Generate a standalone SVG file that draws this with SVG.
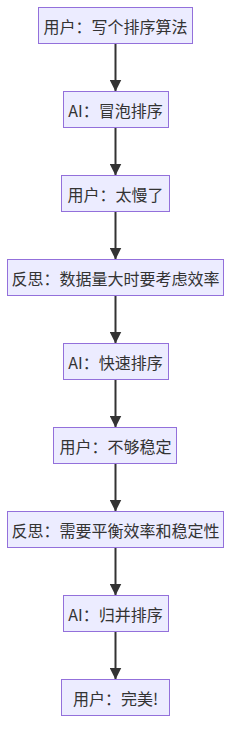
<svg xmlns="http://www.w3.org/2000/svg" width="239" height="749" viewBox="0 0 239 749">
<style>
.node rect{fill:#ECECFF;stroke:#9370DB;stroke-width:1}
.node text{font-family:"Noto Sans CJK SC","Noto Sans",sans-serif;font-size:16px;fill:#333;text-anchor:middle;dominant-baseline:central}
.edge{stroke:#333;stroke-width:2;fill:none}
</style>
<defs>
<marker id="arr" markerUnits="userSpaceOnUse" markerWidth="12" markerHeight="12" refX="11" refY="5.5" orient="auto" viewBox="0 0 11 11">
<path d="M0,0 L11,5.5 L0,11 z" fill="#333"/>
</marker>
</defs>
<rect width="239" height="749" fill="#fff"/>
<g id="edges">
<line class="edge" x1="115.5" y1="43.5" x2="115.5" y2="91.5" marker-end="url(#arr)"/>
<line class="edge" x1="115.5" y1="127.5" x2="115.5" y2="175.5" marker-end="url(#arr)"/>
<line class="edge" x1="115.5" y1="211.5" x2="115.5" y2="259.5" marker-end="url(#arr)"/>
<line class="edge" x1="115.5" y1="295.5" x2="115.5" y2="343.5" marker-end="url(#arr)"/>
<line class="edge" x1="115.5" y1="379.5" x2="115.5" y2="427.5" marker-end="url(#arr)"/>
<line class="edge" x1="115.5" y1="463.5" x2="115.5" y2="511.5" marker-end="url(#arr)"/>
<line class="edge" x1="115.5" y1="547.5" x2="115.5" y2="595.5" marker-end="url(#arr)"/>
<line class="edge" x1="115.5" y1="631.5" x2="115.5" y2="679.5" marker-end="url(#arr)"/>
</g>
<g id="n1" class="node"><rect x="38.5" y="7.5" width="154" height="36"/><text x="115.5" y="25.5">用户：写个排序算法</text></g>
<g id="n2" class="node"><rect x="63.5" y="91.5" width="105" height="36"/><text x="115.5" y="109.5">AI：冒泡排序</text></g>
<g id="n3" class="node"><rect x="61.5" y="175.5" width="108" height="36"/><text x="115.5" y="193.5">用户：太慢了</text></g>
<g id="n4" class="node"><rect x="7.5" y="259.5" width="216" height="36"/><text x="115.5" y="277.5">反思：数据量大时要考虑效率</text></g>
<g id="n5" class="node"><rect x="63.5" y="343.5" width="105" height="36"/><text x="115.5" y="361.5">AI：快速排序</text></g>
<g id="n6" class="node"><rect x="53.5" y="427.5" width="123" height="36"/><text x="115.5" y="445.5">用户：不够稳定</text></g>
<g id="n7" class="node"><rect x="7.5" y="511.5" width="216" height="36"/><text x="115.5" y="529.5">反思：需要平衡效率和稳定性</text></g>
<g id="n8" class="node"><rect x="63.5" y="595.5" width="105" height="36"/><text x="115.5" y="613.5">AI：归并排序</text></g>
<g id="n9" class="node"><rect x="61.5" y="679.5" width="108" height="36"/><text x="115.5" y="697.5">用户：完美!</text></g>
</svg>
